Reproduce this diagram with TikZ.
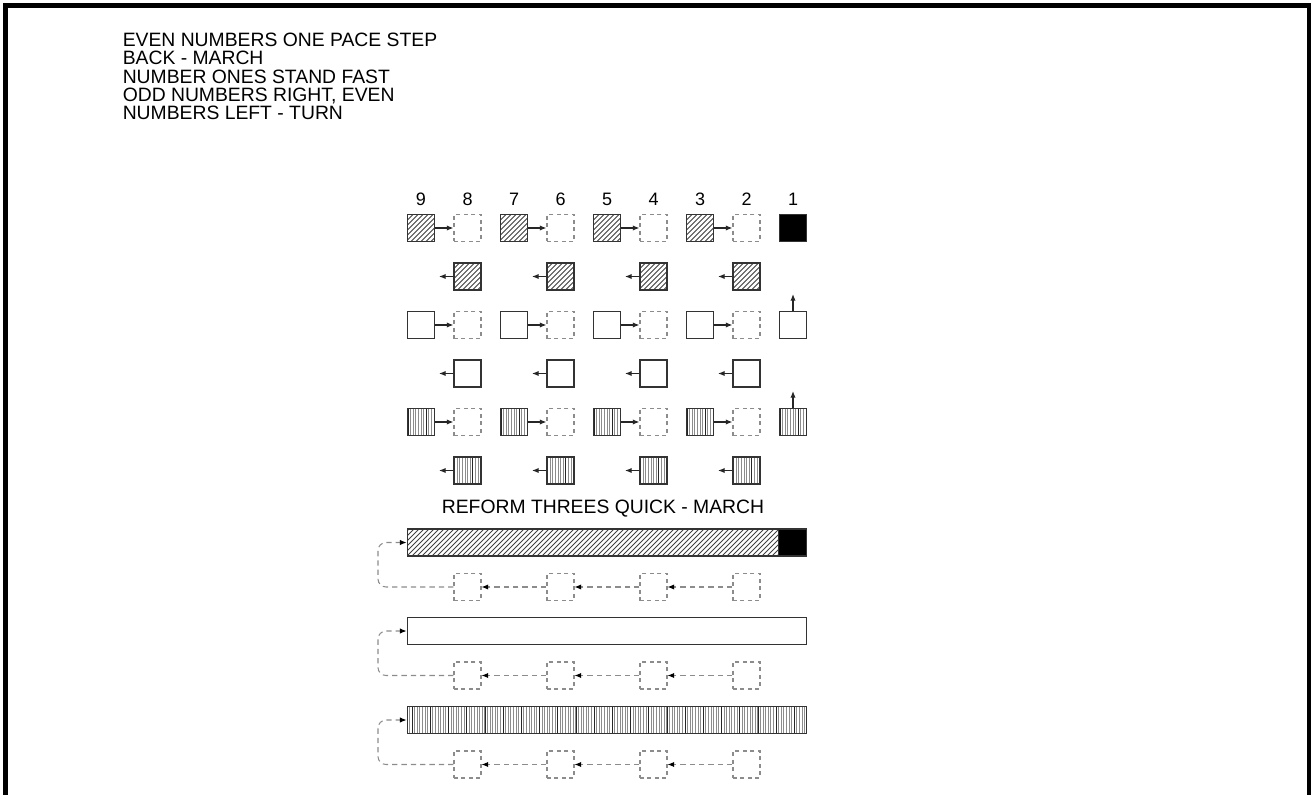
\documentclass[tikz,border=0pt]{standalone}
\usepackage{fontspec}
\setmainfont{Liberation Sans}
\usetikzlibrary{arrows.meta}

\begin{document}
\begin{tikzpicture}[x=0.75pt,y=-0.75pt,
  frame/.style={draw=black,line width=3.4pt},
  note/.style={font=\fontsize{14.5pt}{16pt}\selectfont,anchor=base west,inner sep=0pt},
  num/.style={font=\fontsize{13.5pt}{15pt}\selectfont,anchor=base,inner sep=0pt},
  man/.style={draw=black!80,line width=1.3pt,minimum size=20.25pt,inner sep=0pt},
  gap/.style={draw=black!45,line width=0.8pt,dash pattern=on 3pt off 2.6pt,minimum size=20.25pt,inner sep=0pt},
  hatch/.style={man,path picture={
    \foreach \k in {-240,-235,...,210}{\draw[black!75,line width=0.55pt] ([xshift=\k*0.75pt]path picture bounding box.south) -- +(30,-30);}}},
  stripe/.style={man,path picture={
    \foreach \k in {-80,...,80}{\draw[black!45,line width=0.55pt] ([xshift=\k*1.95pt]path picture bounding box.south) -- ([xshift=\k*1.95pt]path picture bounding box.north);}
    \foreach \k in {-11,...,11}{\draw[black!85,line width=0.65pt] ([xshift=\k*13.65pt+4pt]path picture bounding box.south) -- ([xshift=\k*13.65pt+4pt]path picture bounding box.north);}}},
  go/.style={draw=black!85,line width=0.9pt,-{Latex[length=5pt,width=4pt]}},
  back/.style={draw=black!45,line width=0.8pt,dash pattern=on 4pt off 3pt,-{Latex[black,length=5pt,width=4pt]}},
]
\useasboundingbox (0,0) rectangle (1314,795);
\draw[frame] (5.5,800) -- (5.5,5.3) -- (1309,5.3) -- (1309,800);

\foreach \t [count=\i] in {EVEN NUMBERS ONE PACE STEP,BACK - MARCH,NUMBER ONES STAND FAST,{ODD NUMBERS RIGHT, EVEN},NUMBERS LEFT - TURN}
  \node[note] (order\i) at (122.5,{46.7+(\i-1)*18.3}) {\t};

\foreach \n in {1,...,9}
  \node[num] (lab\n) at ({793-(\n-1)*46.5},206) {\n};

\foreach \r/\q/\kind/\ya/\yb in {a/b/hatch/228/276.5,c/d/man/325/373.5,e/f/stripe/422/470.5}{
  \foreach \o/\e in {9/8,7/6,5/4,3/2}{
    \node[\kind] (\r\o) at ({793-(\o-1)*46.5},\ya) {};
    \node[gap] (\r\e) at ({793-(\e-1)*46.5},\ya) {};
    \draw[go] (\r\o.east) -- (\r\e.west);
    \node[\kind] (\q\e) at ({793-(\e-1)*46.5},\yb) {};
    \coordinate (\q\e t) at ({793-(\e-1)*46.5-28.5},\yb);
    \draw[go] (\q\e.west) -- (\q\e t);
  }
}
\node[man,fill=black] (a1) at (793,228) {};
\node[man] (c1) at (793,325) {};
\coordinate (c1t) at (793,294);
\draw[go] (c1.north) -- (c1t);
\node[stripe] (e1) at (793,422) {};
\coordinate (e1t) at (793,391);
\draw[go] (e1.north) -- (e1t);

\node[font=\fontsize{14.5pt}{16pt}\selectfont,anchor=base,inner sep=0pt] (reform) at (603,513) {REFORM THREES QUICK - MARCH};

\foreach \k/\kind/\y in {1/hatch/542.5,2/man/631,3/stripe/720}{
  \node[\kind,minimum width=299.25pt] (bar\k) at (607,\y) {};
  \foreach \e in {8,6,4,2}
    \node[gap] (s\k\e) at ({793-(\e-1)*46.5},{\y+44.5}) {};
  \draw[back] (s\k2.west) -- (s\k4.east);
  \draw[back] (s\k4.west) -- (s\k6.east);
  \draw[back] (s\k6.west) -- (s\k8.east);
  \coordinate (k\k) at (378,\y);
  \draw[back,rounded corners=6pt] (s\k8.west) -| (k\k) -- (bar\k.west);
}
\node[man,fill=black,minimum width=21pt,anchor=east] (bar1end) at (bar1.east) {};
\end{tikzpicture}
\end{document}
